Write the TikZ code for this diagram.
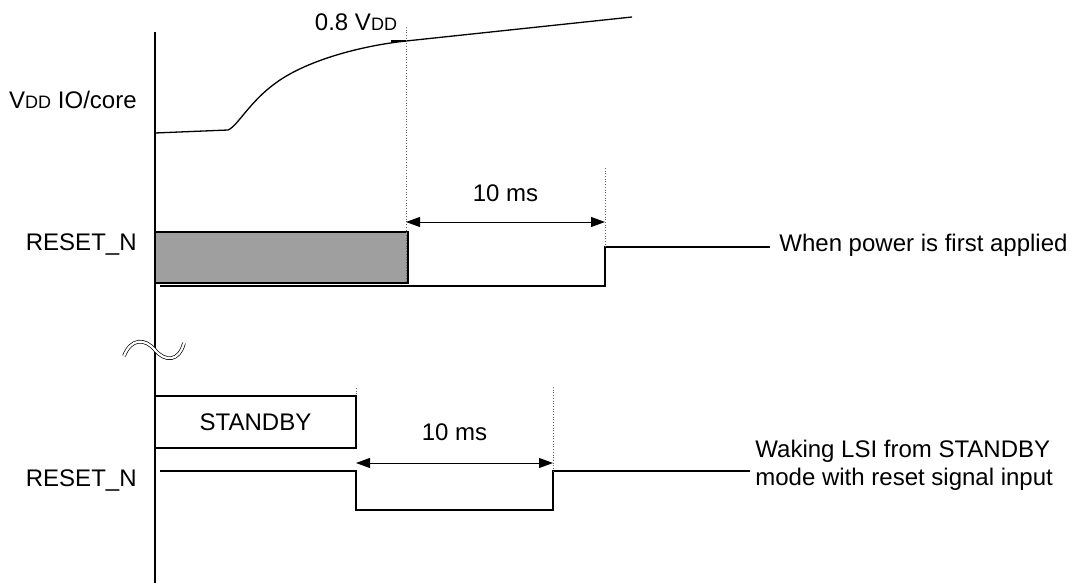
\documentclass[tikz,border=0pt]{standalone}
\usepackage{fontspec}
\setmainfont{Liberation Sans}
\usetikzlibrary{arrows.meta}
\newcommand{\vdd}{V{\fontsize{9}{10}\selectfont DD}}

\begin{document}
\begin{tikzpicture}[
		x=0.5pt, y=-0.5pt,
		>={Triangle[length=7pt,width=5pt]},
		axis/.style={line width=0.9pt},
		wave/.style={line width=0.65pt},
		guide/.style={densely dotted, line width=0.35pt, black!60},
		lbl/.style={font=\fontsize{12}{14}\selectfont, inner sep=0pt}
		]
		\useasboundingbox (0,0) rectangle (1077,583);
		
		% --------------------------------------------------
		% Time axis
		% --------------------------------------------------
		\draw[axis] (155,32) -- (155,583);
		
		% break mark
		\draw[line width=0.35pt, double, double distance=1.1pt] (124,356) .. controls (131,338) and (145,338) .. (155,350) .. controls (165,362) and (179,362) .. (184,343);
		
		% --------------------------------------------------
		% VDD
		% --------------------------------------------------
		\node[lbl, anchor=east] (vddlbl) at (137,100) {\vdd\ IO/core};
		\node[lbl] (pct) at (356,22) {0.8 \vdd};
		
		\draw[wave] (155,133) -- (228,130) .. controls (238,126) and (250,100) .. (280,80) .. controls (310,60) and (360,46) .. (406,41) -- (632,17);
		\draw[wave] (391,41) -- (406,41);
		
		% --------------------------------------------------
		% RESET_N, power on
		% --------------------------------------------------
		\coordinate (tA) at (406,27);
		\coordinate (tB) at (605,168);
		
		\node[lbl, anchor=east] (rstA) at (137,245) {RESET\_N};
		\draw[wave, fill=gray!75] (155,232) rectangle (408,283);
		\draw[wave] (160,286) -- (605,286) -- (605,247) -- (770,247);
		\node[lbl, anchor=west] (noteA) at (779,245) {When power is first applied};
		
		\draw[guide] (tA) -- (406,283);
		\draw[guide] (tB) -- (605,247);
		\draw[<->, line width=0.5pt] (406,222) -- node[lbl, above=10pt] (msA) {10 ms} (605,222);
		
		% --------------------------------------------------
		% RESET_N, standby wake-up
		% --------------------------------------------------
		\node[draw, wave, lbl, minimum width=100.5pt, minimum height=26pt] (stby) at (255.5,422) {STANDBY};
		
		\node[lbl, anchor=east] (rstB) at (137,481) {RESET\_N};
		\draw[wave] (160,471) -- (356,471) -- (356,510) -- (553,510) -- (553,471) -- (750,471);
		\node[lbl, anchor=west, align=left] (noteB) at (755,465) {Waking LSI from STANDBY\\mode with reset signal input};
		
		\draw[guide] (356,388) -- (356,396);
		\draw[guide] (553,387) -- (553,471);
		\draw[<->, line width=0.5pt] (356,463) -- node[lbl, above=11pt] (msB) {10 ms} (553,463);
		
	\end{tikzpicture}
\end{document}
